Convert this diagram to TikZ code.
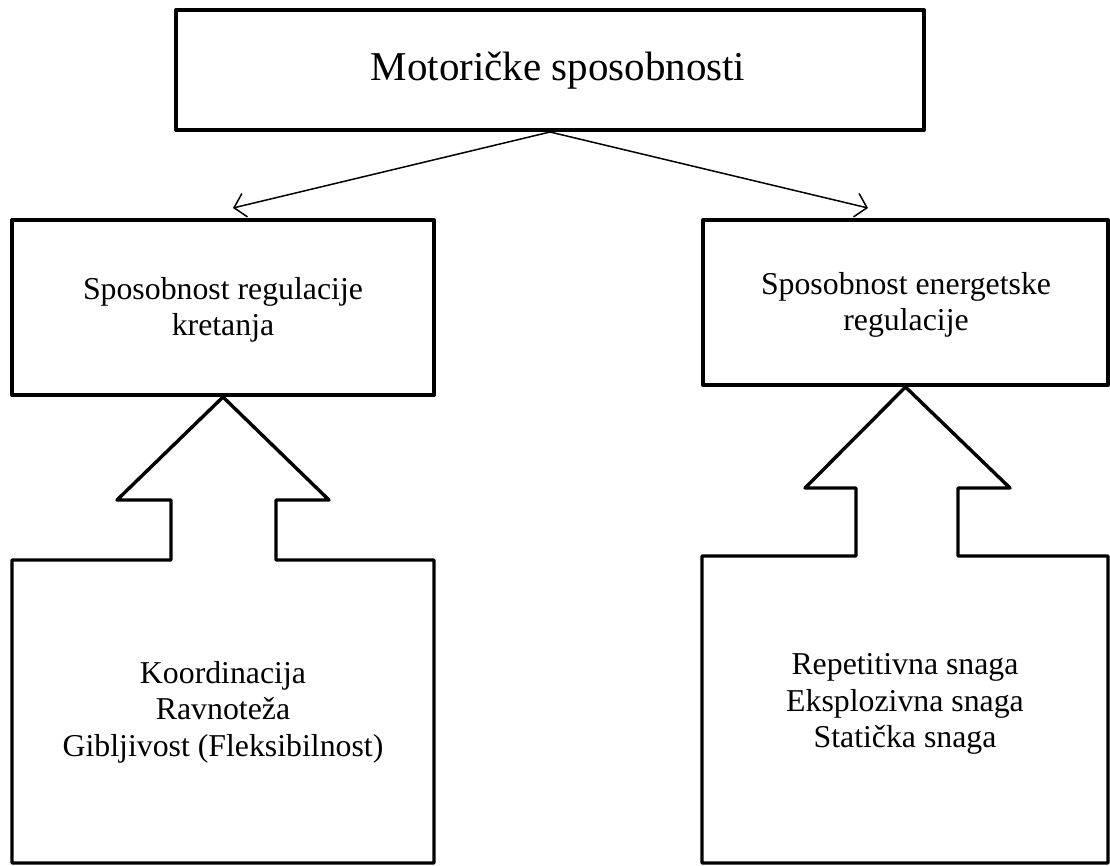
\documentclass[tikz,border=0pt]{standalone}
\usepackage{fontspec}
\setmainfont{Liberation Serif}
\usetikzlibrary{arrows.meta}
\begin{document}
\begin{tikzpicture}[x=1pt,y=-1pt,
  box/.style={draw, line width=4pt, line join=round, inner sep=0pt, align=center},
  bigtxt/.style={font=\fontsize{41}{47}\selectfont},
  midtxt/.style={font=\fontsize{31.8}{36.5}\selectfont, align=center},
  blockarrow/.style={draw, line width=3.4pt, line join=round},
  conn/.style={draw, line width=1.5pt, -{Straight Barb[length=11pt,width=24pt,line width=1.5pt]}}]
\useasboundingbox (0,0) rectangle (1110,865);
% top box
\node[box, minimum width=748pt, minimum height=120pt] (top) at (550,70) {};
\node[bigtxt] (toptxt) at (558,71) {Motoričke sposobnosti};
% middle boxes
\node[box, minimum width=422pt, minimum height=175pt] (lmid) at (223,307.5) {};
\node[midtxt] (lmidtxt) at (223,310) {Sposobnost regulacije\\kretanja};
\node[box, minimum width=405pt, minimum height=165pt] (rmid) at (905.5,302.5) {};
\node[midtxt] (rmidtxt) at (906,305) {Sposobnost energetske\\regulacije};
% connectors
\coordinate (ltip) at (233,208);
\coordinate (rtip) at (868,208);
\draw[conn] (top.south) -- (ltip);
\draw[conn] (top.south) -- (rtip);
% bottom left box with block arrow
\draw[blockarrow] (12,863) -- (12,560) -- (171,560) -- (171,500) -- (117,500)
  -- (lmid.south) -- (329,500) -- (276,500) -- (276,560) -- (434,560) -- (434,863) -- cycle;
\node[midtxt] (lbottxt) at (223,712) {Koordinacija\\Ravnoteža\\Gibljivost (Fleksibilnost)};
% bottom right box with block arrow
\draw[blockarrow] (702,863) -- (702,556) -- (856,556) -- (856,488) -- (805,488)
  -- (rmid.south) -- (1010,488) -- (958,488) -- (958,556) -- (1108,556) -- (1108,863) -- cycle;
\node[midtxt] (rbottxt) at (905,704) {Repetitivna snaga\\Eksplozivna snaga\\Statička snaga};
\end{tikzpicture}
\end{document}
